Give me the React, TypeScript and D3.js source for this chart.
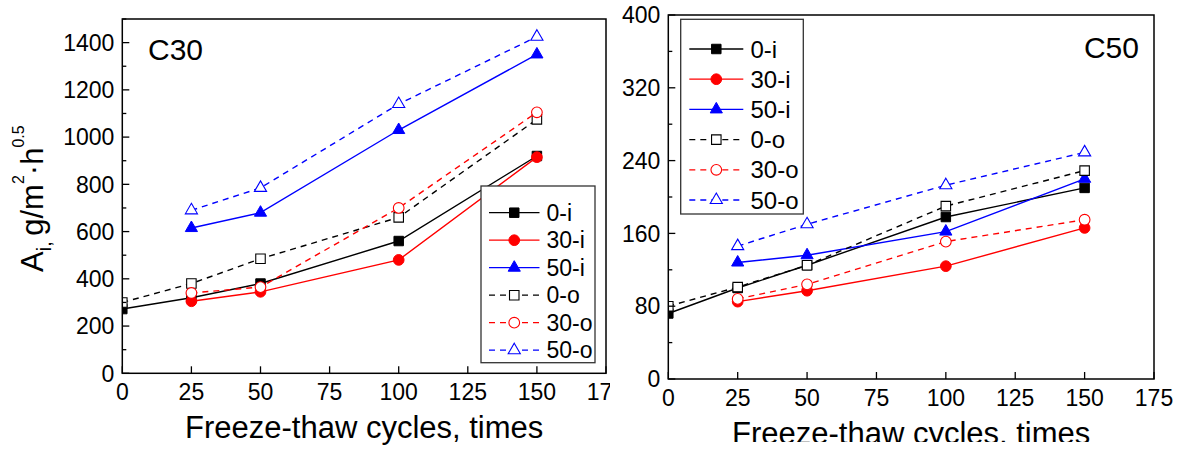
import React from 'react';
import * as d3 from 'd3';

const cycles = [0, 25, 50, 100, 150];
const seriesNames = ['0-i', '30-i', '50-i', '0-o', '30-o', '50-o'];

// C30 panel values (A_i, g/m^2·h^0.5)
const c30_0i = [272, 320, 380, 560, 920];
const c30_30i = [null, 305, 345, 480, 915];
const c30_50i = [null, 615, 680, 1030, 1350];
const c30_0o = [300, 380, 485, 660, 1075];
const c30_30o = [null, 340, 365, 700, 1105];
const c30_50o = [null, 690, 785, 1140, 1425];

// C50 panel values
const c50_0i = [72, 100, 125, 178, 210];
const c50_30i = [null, 85, 97, 124, 166];
const c50_50i = [null, 128, 136, 162, 220];
const c50_0o = [80, 101, 125, 190, 229];
const c50_30o = [null, 88, 104, 151, 175];
const c50_50o = [null, 146, 170, 213, 249];

const xTicks = [0, 25, 50, 75, 100, 125, 150, 175];
const c30YTicks = [0, 200, 400, 600, 800, 1000, 1200, 1400];
const c50YTicks = [0, 80, 160, 240, 320, 400];

const FONT = '"Liberation Sans", Arial, Helvetica, sans-serif';

type Sym = 'square' | 'circle' | 'triangle';
const seriesStyle: { color: string; sym: Sym; open: boolean }[] = [
  { color: '#000000', sym: 'square', open: false },
  { color: '#ff0000', sym: 'circle', open: false },
  { color: '#0000ff', sym: 'triangle', open: false },
  { color: '#000000', sym: 'square', open: true },
  { color: '#ff0000', sym: 'circle', open: true },
  { color: '#0000ff', sym: 'triangle', open: true },
];

const symPath = (s: Sym) => {
  if (s === 'square') return d3.symbol().type(d3.symbolSquare).size(90)() as string;
  if (s === 'circle') return d3.symbol().type(d3.symbolCircle).size(90)() as string;
  return d3.symbol().type(d3.symbolTriangle).size(64)() as string;
};

function Marker({ x, y, i }: { x: number; y: number; i: number }) {
  const st = seriesStyle[i];
  return (
    <path
      d={symPath(st.sym)}
      transform={`translate(${x},${y})`}
      fill={st.open ? '#ffffff' : st.color}
      stroke={st.color}
      strokeWidth={st.open ? 1.1 : 1}
    />
  );
}

interface PanelProps {
  id: string;
  data: (number | null)[][];
  x0: number;
  x1: number;
  yTop: number;
  yBottom: number;
  yMax: number;
  yTicks: number[];
  yMinor: number;
  label: string;
  labelX: number;
  labelY: number;
  labelAnchor: string;
  legend: { x0: number; y0: number; x1: number; y1: number; rowY0: number; rowStep: number; lx1: number; lx2: number; tx: number; fs: number };
}

function Panel(p: PanelProps) {
  const x = d3.scaleLinear().domain([0, 175]).range([p.x0, p.x1]);
  const y = d3.scaleLinear().domain([0, p.yMax]).range([p.yBottom, p.yTop]);
  const minor = d3.range(0, p.yMax + 0.001, p.yMinor).filter((v) => !p.yTicks.includes(v));
  const line = d3
    .line<[number, number | null]>()
    .defined((d) => d[1] !== null)
    .x((d) => x(d[0]))
    .y((d) => y(d[1] as number));
  const lg = p.legend;
  return (
    <g>
      <defs>
        <clipPath id={`clip-${p.id}`}>
          <rect x={p.x0} y={p.yTop} width={p.x1 - p.x0} height={p.yBottom - p.yTop} />
        </clipPath>
      </defs>
      <g clipPath={`url(#clip-${p.id})`}>
        {p.data.map((vals, i) => {
          const pts = cycles.map((c, k) => [c, vals[k]] as [number, number | null]);
          return (
            <g key={i}>
              <path
                d={line(pts) as string}
                fill="none"
                stroke={seriesStyle[i].color}
                strokeWidth={1.4}
                strokeDasharray={seriesStyle[i].open ? '6,5' : undefined}
              />
              {pts
                .filter((d) => d[1] !== null)
                .map((d, k) => (
                  <Marker key={k} x={x(d[0])} y={y(d[1] as number)} i={i} />
                ))}
            </g>
          );
        })}
      </g>
      <rect x={p.x0} y={p.yTop} width={p.x1 - p.x0} height={p.yBottom - p.yTop} fill="none" stroke="#000" strokeWidth={1.5} />
      {xTicks.map((t) => (
        <g key={t}>
          <line x1={x(t)} x2={x(t)} y1={p.yBottom} y2={p.yBottom - 7} stroke="#000" strokeWidth={1.3} />
          <text x={x(t)} y={p.yBottom + 27} textAnchor="middle" fontSize={23} fontFamily={FONT}>
            {t}
          </text>
        </g>
      ))}
      {p.yTicks.map((t) => (
        <g key={t}>
          <line x1={p.x0} x2={p.x0 + 7} y1={y(t)} y2={y(t)} stroke="#000" strokeWidth={1.3} />
          <text x={p.x0 - 8} y={y(t)} dy="0.36em" textAnchor="end" fontSize={23} fontFamily={FONT}>
            {t}
          </text>
        </g>
      ))}
      {minor.map((t) => (
        <line key={t} x1={p.x0} x2={p.x0 + 4} y1={y(t)} y2={y(t)} stroke="#000" strokeWidth={1.3} />
      ))}
      <text x={(p.x0 + p.x1) / 2} y={p.yBottom + 65} textAnchor="middle" fontSize={31} fontFamily={FONT}>
        Freeze-thaw cycles, times
      </text>
      <text x={p.labelX} y={p.labelY} textAnchor={p.labelAnchor as any} fontSize={30} fontFamily={FONT}>
        {p.label}
      </text>
      <rect x={lg.x0} y={lg.y0} width={lg.x1 - lg.x0} height={lg.y1 - lg.y0} fill="#fff" stroke="#333" strokeWidth={1.3} />
      {seriesNames.map((n, i) => {
        const ry = lg.rowY0 + i * lg.rowStep;
        const st = seriesStyle[i];
        return (
          <g key={n}>
            <line
              x1={lg.lx1}
              x2={lg.lx2}
              y1={ry}
              y2={ry}
              stroke={st.color}
              strokeWidth={1.3}
              strokeDasharray={st.open ? '6,5' : undefined}
            />
            <Marker x={(lg.lx1 + lg.lx2) / 2} y={ry} i={i} />
            <text x={lg.tx} y={ry} dy="0.36em" fontSize={lg.fs} fontFamily={FONT}>
              {n}
            </text>
          </g>
        );
      })}
    </g>
  );
}

export default function App() {
  return (
    <svg
      width={1186}
      height={454}
      style={{ position: 'absolute', left: 0, top: 0, background: '#fff' }}
    >
      <rect x={0} y={0} width={1186} height={454} fill="#fff" />
      <Panel
        id="c30"
        data={[c30_0i, c30_30i, c30_50i, c30_0o, c30_30o, c30_50o]}
        x0={122.3}
        x1={606}
        yTop={19}
        yBottom={373.3}
        yMax={1500}
        yTicks={c30YTicks}
        yMinor={100}
        label="C30"
        labelX={148}
        labelY={60}
        labelAnchor="start"
        legend={{ x0: 481, y0: 186, x1: 595, y1: 362.7, rowY0: 212.7, rowStep: 27.5, lx1: 489, lx2: 539.5, tx: 546.5, fs: 23 }}
      />
      <text transform="translate(43,272) rotate(-90)" fontSize={31} fontFamily={FONT}>
        A
        <tspan fontSize={20} dy={8}>i, </tspan>
        <tspan dy={-8}>g/m</tspan>
        <tspan fontSize={16} dy={-19}>2</tspan>
        <tspan dy={19}>·h</tspan>
        <tspan fontSize={16} dy={-19}>0.5</tspan>
      </text>
      <defs>
        <clipPath id="rightPanelClip">
          <rect x={610} y={0} width={576} height={442} />
        </clipPath>
      </defs>
      <g clipPath="url(#rightPanelClip)">
        <rect x={610} y={0} width={576} height={454} fill="#fff" />
        <Panel
          id="c50"
          data={[c50_0i, c50_30i, c50_50i, c50_0o, c50_30o, c50_50o]}
          x0={668.3}
          x1={1154}
          yTop={15}
          yBottom={379}
          yMax={400}
          yTicks={c50YTicks}
          yMinor={40}
          label="C50"
          labelX={1139}
          labelY={58}
          labelAnchor="end"
          legend={{ x0: 680.7, y0: 19.3, x1: 803.3, y1: 214, rowY0: 49, rowStep: 30.2, lx1: 689.3, lx2: 743.3, tx: 750.5, fs: 24 }}
        />
      </g>
    </svg>
  );
}
